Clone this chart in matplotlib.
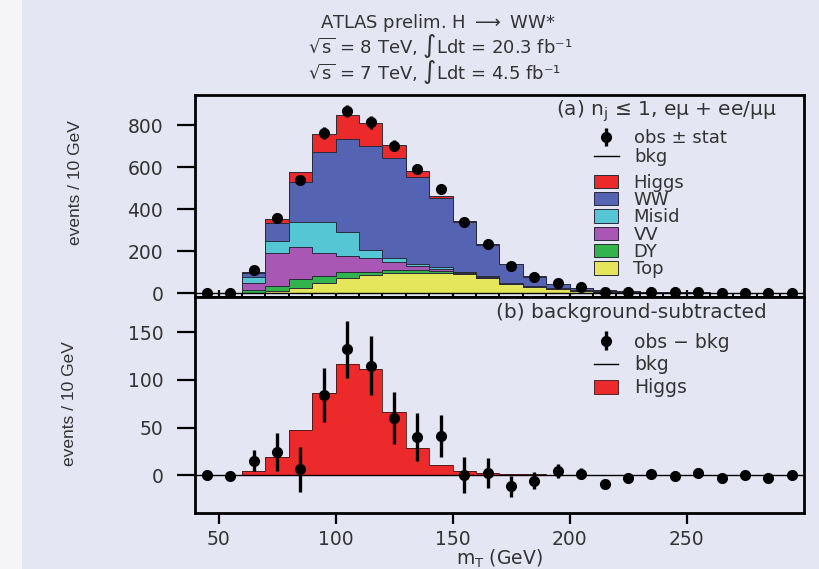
import numpy as np
import matplotlib.pyplot as plt
from matplotlib.patches import Rectangle, Patch
from matplotlib.lines import Line2D

# m_T bins, 10 GeV wide
mt_edges = [40, 50, 60, 70, 80, 90, 100, 110, 120, 130, 140, 150, 160,
            170, 180, 190, 200, 210, 220, 230, 240, 250, 260, 270, 280, 290, 300]

# background components (events / 10 GeV), stacked bottom to top
top_bkg = [0, 0, 2, 10, 25, 49, 70, 86, 94, 97, 97, 90, 70, 43, 30, 19, 11, 6, 3, 2, 1, 1, 0.5, 0.5, 0, 0]
dy = [0, 0, 12, 25, 40, 33, 32, 16, 15, 12, 8, 4, 3, 2, 1, 1, 1, 0.5, 0.3, 0.2, 0, 0, 0, 0, 0, 0]
vv = [0, 0.5, 35, 154, 152, 107, 74, 63, 40, 20, 9, 8, 5, 4, 2, 1, 1, 0.5, 0.4, 0.3, 0.2, 0.2, 0.1, 0.1, 0, 0]
misid = [0, 0, 26, 60, 120, 148, 116, 40, 16, 9, 8, 0, 2, 1, 1, 1, 0, 0.5, 0.3, 0.2, 0.1, 0.1, 0.1, 0, 0, 0]
ww = [0, 0.5, 20, 86, 193, 336, 440, 493, 476, 413, 329, 238, 150, 88, 44, 20, 12, 8.5, 6, 3.3, 2.7, 1.7, 1.3, 1.4, 1, 1]
higgs = [0, 0, 4, 19, 47, 86, 117, 111, 66, 28, 11, 4, 2.5, 1.5, 1, 0.5, 0, 0, 0, 0, 0, 0, 0, 0, 0, 0]

# observed data
obs = [0, 0, 110, 357, 538, 763, 866, 813, 702, 590, 494, 340, 232, 130, 74, 48, 28, 7, 6, 6, 3, 5, 0, 2, 0, 1]
obs_minus_bkg = [0, -1, 15, 24, 6, 84, 132, 115, 60, 40, 41, 0, 2.5, -11.5, -6, 4.5, 1.7, -9.4, -3.5, 0.7,
                 -0.7, 2.5, -2.8, 0, -2.5, 0]
stat_err = [0, 0, 11, 20, 24, 28, 30, 31, 27, 25, 22, 19, 16, 11, 9, 7, 6, 3, 2, 2, 2, 2, 1, 1, 1, 1]

bg_col = '#e4e6f3'
txt_col = '#333333'
layers = [('Top', top_bkg, '#e6e65c'), ('DY', dy, '#33b34c'), ('VV', vv, '#a857b4'),
          ('Misid', misid, '#55c6d3'), ('WW', ww, '#5563b3'), ('Higgs', higgs, '#ec2a2c')]

plt.rcParams['font.family'] = ['DejaVu Sans']
fig = plt.figure(figsize=(8.2, 5.69), dpi=100, facecolor=bg_col)
fig.patches.append(Rectangle((0, 0), 22 / 820, 1, transform=fig.transFigure,
                             facecolor='#f5f5f7', edgecolor='none', zorder=-1))

ax1 = fig.add_axes([0.238, 0.478, 0.742, 0.355])
ax2 = fig.add_axes([0.238, 0.098, 0.742, 0.380])

edges = np.array(mt_edges)
centers = (edges[:-1] + edges[1:]) / 2

# --- (a) stacked distribution
base = np.zeros(len(centers))
for name, vals, col in layers:
    vals = np.array(vals, dtype=float)
    ax1.stairs(base + vals, edges, baseline=base, fill=True, color=col, zorder=2)
    ax1.stairs(base + vals, edges, baseline=None, color='#2a2a3a', lw=0.7, zorder=3)
    base = base + vals
ax1.axhline(0, color='k', lw=1, zorder=3)
eb1 = ax1.errorbar(centers, obs, yerr=stat_err, fmt='o', color='k', ms=7, elinewidth=2.4,
                   capsize=0, zorder=5)

# --- (b) background-subtracted
ax2.stairs(higgs, edges, fill=True, color='#ec2a2c', zorder=2)
ax2.stairs(higgs, edges, baseline=None, color='#3a1a1a', lw=0.6, zorder=3)
ax2.axhline(0, color='k', lw=1, zorder=3)
eb2 = ax2.errorbar(centers, obs_minus_bkg, yerr=stat_err, fmt='o', color='k', ms=7,
                   elinewidth=2.4, capsize=0, zorder=5)

for ax in (ax1, ax2):
    ax.set_facecolor(bg_col)
    ax.set_xlim(40, 300)
    for s in ax.spines.values():
        s.set_linewidth(2)
    ax.tick_params(axis='y', direction='out', length=13, width=1.6, pad=10,
                   labelsize=13.5, labelcolor=txt_col)

ax1.set_ylim(-19, 943)
ax1.set_yticks([0, 200, 400, 600, 800])
ax1.set_xticks([50, 100, 150, 200, 250])
ax1.set_xticks(np.arange(60, 300, 10), minor=True)
ax1.tick_params(axis='x', which='major', direction='in', length=5, width=1.6, labelbottom=False)
ax1.tick_params(axis='x', which='minor', direction='in', length=3, width=1.4)

ax2.set_ylim(-40, 187)
ax2.set_yticks([0, 50, 100, 150])
ax2.set_xticks([50, 100, 150, 200, 250])
ax2.tick_params(axis='x', direction='out', length=8, width=1.6, pad=4,
                labelsize=13.5, labelcolor=txt_col)
ax2.set_xlabel('m$_\\mathrm{T}$ (GeV)', fontsize=13.5, color=txt_col)
ax2.xaxis.set_label_coords(0.5, -0.16)

ylab_font = dict(family=['Liberation Sans', 'DejaVu Sans'], fontsize=12.5, color=txt_col)
ax1.set_ylabel('events / 10 GeV', **ylab_font)
ax1.yaxis.set_label_coords(-0.185, 0.569)
ax2.set_ylabel('events / 10 GeV', **ylab_font)
ax2.yaxis.set_label_coords(-0.194, 0.509)

# panel captions
ax1.text(0.955, 0.918, '(a) n$_\\mathrm{j}$ \u2264 1, e\u03bc + ee/\u03bc\u03bc', transform=ax1.transAxes,
         ha='right', va='center', fontsize=14.5, color=txt_col)
ax2.text(0.94, 0.93, '(b) background-subtracted', transform=ax2.transAxes,
         ha='right', va='center', fontsize=14.5, color=txt_col)

# legends
leg_kw = dict(frameon=False, borderpad=0, borderaxespad=0, labelcolor=txt_col)
leg_a1 = ax1.legend([eb1, Line2D([], [], color='k', lw=1)], ['obs \u00b1 stat', 'bkg'],
                    loc='upper left', bbox_to_anchor=(0.655, 0.83), fontsize=13,
                    handlelength=1.4, handleheight=0.8, handletextpad=0.85,
                    labelspacing=0.05, **leg_kw)
ax1.add_artist(leg_a1)
patches = [Patch(facecolor=col, edgecolor='#2a2a3a', lw=0.7) for _, _, col in layers[::-1]]
ax1.legend(patches, [n for n, _, _ in layers[::-1]], loc='upper left',
           bbox_to_anchor=(0.655, 0.61), fontsize=13, handlelength=1.35, handleheight=0.75,
           handletextpad=0.85, labelspacing=-0.04, **leg_kw)

ax2.legend([eb2, Line2D([], [], color='k', lw=1), Patch(facecolor='#ec2a2c', edgecolor='#3a1a1a', lw=0.6)],
           ['obs \u2212 bkg', 'bkg', 'Higgs'], loc='upper left', bbox_to_anchor=(0.655, 0.835),
           fontsize=13.5, handlelength=1.3, handleheight=0.8, handletextpad=0.85,
           labelspacing=0.2, **leg_kw)

# header
hdr = dict(fontsize=13, color=txt_col, ha='left', va='center')
fig.text(0.39, 0.96, 'ATLAS prelim. H $\\longrightarrow$ WW*', **hdr)
fig.text(0.376, 0.919, '$\\sqrt{\\mathrm{s}}$ = 8 TeV, \u222bLdt = 20.3 fb\u207b\u00b9', **hdr)
fig.text(0.376, 0.873, '$\\sqrt{\\mathrm{s}}$ = 7 TeV, \u222bLdt = 4.5 fb\u207b\u00b9', **hdr)

fig.savefig('out.png', dpi=100, facecolor=bg_col)
